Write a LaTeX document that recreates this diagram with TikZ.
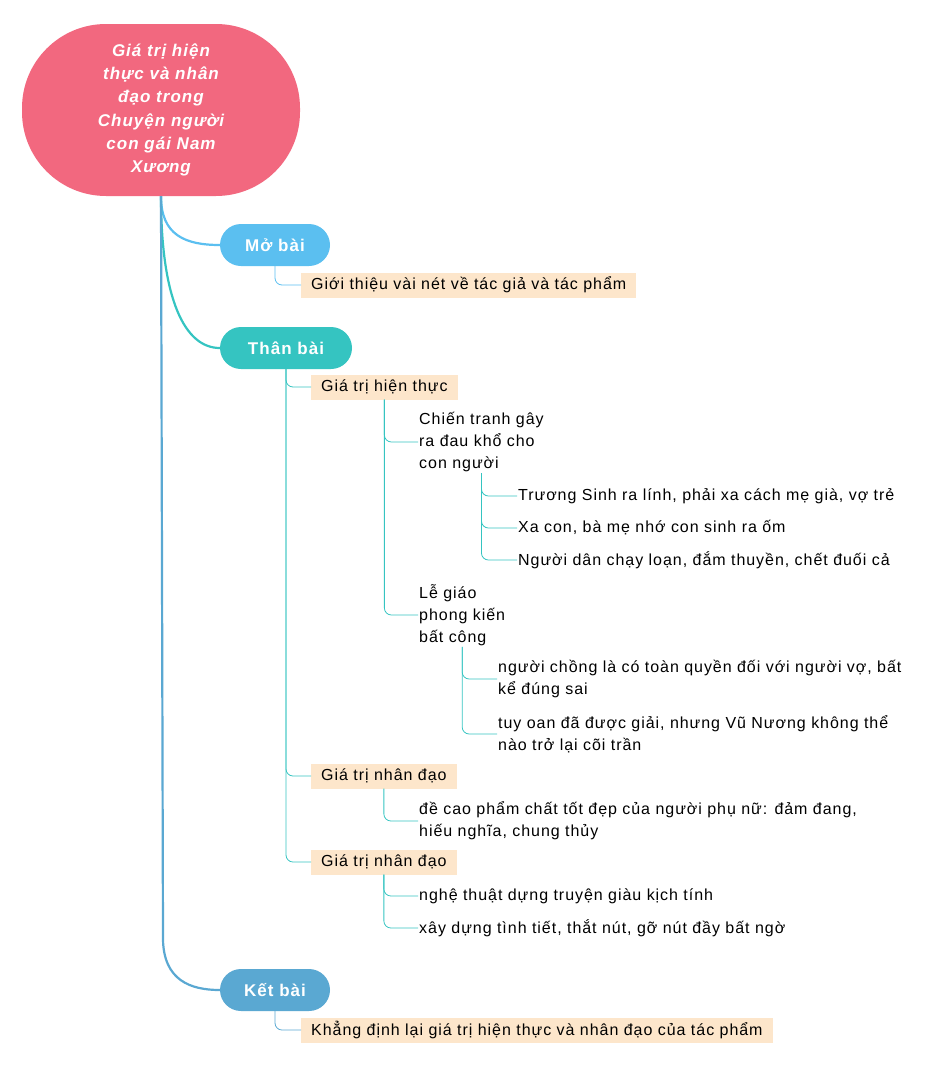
\documentclass[tikz,border=0pt]{standalone}
\usepackage{fontspec}
\setmainfont[LetterSpace=6]{Liberation Sans}
\definecolor{rootpink}{HTML}{F2687F}
\definecolor{mobaiblue}{HTML}{5BBFF0}
\definecolor{thanteal}{HTML}{35C4C1}
\definecolor{ketblue}{HTML}{5AA8D2}
\definecolor{leafcream}{HTML}{FDE6CB}
\tikzset{
  topic/.style={fill=#1,text=white,font=\fontsize{17}{20}\selectfont\bfseries,rounded corners=21pt,minimum height=42pt,inner xsep=0pt,inner ysep=0pt},
  leaf/.style={fill=leafcream,anchor=west,font=\fontsize{16}{22}\selectfont,minimum height=25pt,inner xsep=10pt,inner ysep=0pt},
  item/.style={anchor=west,align=left,font=\fontsize{16}{22}\selectfont,inner sep=1pt},
  link/.style={draw=thanteal,line width=0.8pt,rounded corners=7pt}
}
\begin{document}
\begin{tikzpicture}[x=1pt,y=-1pt]
\useasboundingbox (0,0) rectangle (942,1066);

\node [fill=rootpink,rounded corners=84pt,minimum width=278pt,minimum height=172pt,text=white,align=center,font=\fontsize{17}{23.3}\selectfont\bfseries\itshape] (root) at (161,110) {Giá trị hiện\\thực và nhân\\đạo trong\\Chuyện người\\con gái Nam\\Xương};

\node [topic=mobaiblue,minimum width=110pt] (mo-bai) at (275,245) {Mở bài};
\node [topic=thanteal,minimum width=132pt] (than-bai) at (286,348) {Thân bài};
\node [topic=ketblue,minimum width=110pt] (ket-bai) at (275,990) {Kết bài};

\draw [mobaiblue,line width=2.2pt] (root.south) .. controls (161,235) and (185,245) .. (mo-bai.west);
\draw [thanteal,line width=2.2pt] (root.south) .. controls (161,300) and (185,348) .. (than-bai.west);
\draw [ketblue,line width=2.2pt] (root.south) -- (163,940) .. controls (164,980) and (190,990) .. (ket-bai.west);

\node [leaf] (gioi-thieu) at (301,285) {Giới thiệu vài nét về tác giả và tác phẩm};
\draw [link,draw=mobaiblue] (mo-bai.south) |- (gioi-thieu.west);

\node [leaf] (khang-dinh) at (301,1030) {Khẳng định lại giá trị hiện thực và nhân đạo của tác phẩm};
\draw [link,draw=ketblue] (ket-bai.south) |- (khang-dinh.west);

\node [leaf] (hien-thuc) at (311,387) {Giá trị hiện thực};
\node [leaf] (nhan-dao-1) at (311,776) {Giá trị nhân đạo};
\node [leaf] (nhan-dao-2) at (311,862) {Giá trị nhân đạo};
\draw [link] (than-bai.south) |- (hien-thuc.west);
\draw [link] (than-bai.south) |- (nhan-dao-1.west);
\draw [link] (than-bai.south) |- (nhan-dao-2.west);

\node [item] (chien-tranh) at (418,442) {Chiến tranh gây\\ra đau khổ cho\\con người};
\node [item] (le-giao) at (418,615) {Lễ giáo\\phong kiến\\bất công};
\draw [link] (hien-thuc.south) |- (chien-tranh.west);
\draw [link] (hien-thuc.south) |- (le-giao.west);

\node [item] (truong-sinh) at (517,496) {Trương Sinh ra lính, phải xa cách mẹ già, vợ trẻ};
\node [item] (xa-con) at (517,528) {Xa con, bà mẹ nhớ con sinh ra ốm};
\node [item] (nguoi-dan) at (517,560) {Người dân chạy loạn, đắm thuyền, chết đuối cả};
\draw [link] (chien-tranh.south) |- (truong-sinh.west);
\draw [link] (chien-tranh.south) |- (xa-con.west);
\draw [link] (chien-tranh.south) |- (nguoi-dan.west);

\node [item] (nguoi-chong) at (497,679) {người chồng là có toàn quyền đối với người vợ, bất\\kể đúng sai};
\node [item] (tuy-oan) at (497,734) {tuy oan đã được giải, nhưng Vũ Nương không thể\\nào trở lại cõi trần};
\draw [link] (le-giao.south) |- (nguoi-chong.west);
\draw [link] (le-giao.south) |- (tuy-oan.west);

\node [item] (de-cao) at (418,821) {đề cao phẩm chất tốt đẹp của người phụ nữ: đảm đang,\\hiếu nghĩa, chung thủy};
\draw [link] (nhan-dao-1.south) |- (de-cao.west);

\node [item] (nghe-thuat) at (418,896) {nghệ thuật dựng truyện giàu kịch tính};
\node [item] (xay-dung) at (418,928) {xây dựng tình tiết, thắt nút, gỡ nút đầy bất ngờ};
\draw [link] (nhan-dao-2.south) |- (nghe-thuat.west);
\draw [link] (nhan-dao-2.south) |- (xay-dung.west);

\end{tikzpicture}
\end{document}
